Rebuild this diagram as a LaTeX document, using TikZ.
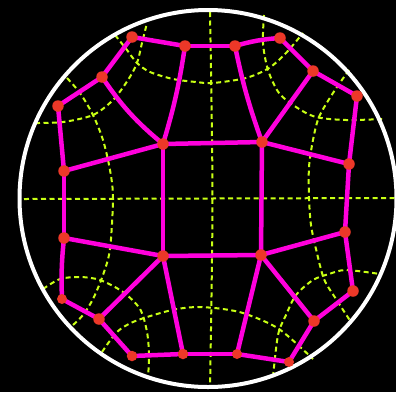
\documentclass[tikz,border=0pt]{standalone}
\usetikzlibrary{backgrounds}
\definecolor{mag}{RGB}{255,0,220}
\definecolor{dotred}{RGB}{236,56,40}
\definecolor{geo}{RGB}{200,255,20}
\pgfdeclarelayer{geolayer}
\pgfdeclarelayer{edgelayer}
\pgfsetlayers{geolayer,edgelayer,main}
\tikzset{
  dot/.style={circle, fill=dotred, draw=none, inner sep=0pt, minimum size=11.5pt},
  edge/.style={draw=mag, line width=4.5pt, line cap=round, line join=round},
  geoline/.style={draw=geo, line width=2pt, dash pattern=on 5pt off 3.5pt},
  rim/.style={draw=white, line width=4pt}
}
\begin{document}
\begin{tikzpicture}[x=1pt, y=-1pt]
\useasboundingbox (0,0) rectangle (396,392);
\begin{pgfonlayer}{geolayer}
  \fill[black] (0,0) rectangle (396,392);
  % straight geodesics
  \draw[geoline] plot[smooth] coordinates {(24,199) (210,198.5) (396,198)};
  \draw[geoline] plot[smooth] coordinates {(210,12) (212.5,198) (210,388)};
  % top-left
  \draw[geoline] plot[smooth] coordinates {(35,123) (63,122) (93,115) (113,100) (128,80) (137,63) (142,43) (147,23)};
  % left
  \draw[geoline] plot[smooth] coordinates {(67,78) (80,93) (93,115) (103,140) (110,170) (113,198) (110,249) (103,275) (93,299) (83,315) (73,325)};
  % top
  \draw[geoline] plot[smooth] coordinates {(115,35) (127,50) (137,63) (150,72) (173,79) (196,82) (213,83) (246,78) (269,68) (286,53) (303,33)};
  % top-right
  \draw[geoline] plot[smooth] coordinates {(264,15) (263,43) (268,70) (279,93) (296,107) (316,117) (346,120) (383,119)};
  % right
  \draw[geoline] plot[smooth] coordinates {(349,70) (333,93) (319,117) (313,140) (309,167) (309,198) (311,225) (316,249) (324,279) (336,299) (351,322)};
  % bottom-left
  \draw[geoline] plot[smooth] coordinates {(43,289) (60,279) (80,277) (100,280) (123,292) (140,309) (147,332) (149,355) (148,378)};
  % bottom
  \draw[geoline] plot[smooth] coordinates {(102,352) (117,332) (133,322) (157,314) (177,309) (198,307) (223,309) (246,314) (279,329) (313,359)};
  % bottom-right
  \draw[geoline] plot[smooth] coordinates {(273,377) (278,335) (286,315) (296,295) (313,280) (329,274) (346,270) (380,274)};
  % boundary circle
  \draw[rim] (208,198.5) circle[radius=188.5];
\end{pgfonlayer}

% vertices
\node[dot] (A) at (132,37) {};
\node[dot] (B) at (185,46) {};
\node[dot] (C) at (102,77) {};
\node[dot] (D) at (58,106) {};
\node[dot] (E) at (163,144) {};
\node[dot] (F) at (64,171) {};
\node[dot] (G) at (235,46) {};
\node[dot] (H) at (280,38) {};
\node[dot] (I) at (313,71) {};
\node[dot] (J) at (357,96) {};
\node[dot] (K) at (262,142) {};
\node[dot] (L) at (349,164) {};
\node[dot] (M) at (64,238) {};
\node[dot] (N) at (163,256) {};
\node[dot, minimum size=10pt] (O) at (62,299) {};
\node[dot] (P) at (99,319) {};
\node[dot, minimum size=10.5pt] (Q) at (132,356) {};
\node[dot, minimum size=10.5pt] (R) at (183,354) {};
\node[dot] (S) at (345,232) {};
\node[dot] (T) at (261,255) {};
\node[dot] (U) at (353,291) {};
\node[dot] (V) at (314,321) {};
\node[dot, minimum size=10pt] (W) at (237,354) {};
\node[dot, minimum size=10pt] (X) at (289,362) {};

\begin{pgfonlayer}{edgelayer}
  % outer ring
  \draw[edge] (A.center) -- (B.center);
  \draw[edge] (B.center) -- (G.center);
  \draw[edge] (G.center) to[bend left=6] (H.center);
  \draw[edge] (H.center) -- (I.center);
  \draw[edge] (I.center) -- (J.center);
  \draw[edge] (J.center) -- (L.center);
  \draw[edge] (L.center) -- (S.center);
  \draw[edge] (S.center) -- (U.center);
  \draw[edge] (U.center) -- (V.center);
  \draw[edge] (V.center) -- (X.center);
  \draw[edge] (X.center) -- (W.center);
  \draw[edge] (W.center) -- (R.center);
  \draw[edge] (R.center) -- (Q.center);
  \draw[edge] (Q.center) -- (P.center);
  \draw[edge] (P.center) -- (O.center);
  \draw[edge] (O.center) to[bend left=4] (M.center);
  \draw[edge] (M.center) -- (F.center);
  \draw[edge] (F.center) -- (D.center);
  \draw[edge] (D.center) -- (C.center);
  \draw[edge] (C.center) -- (A.center);
  % inner square
  \draw[edge] (E.center) -- (K.center);
  \draw[edge] (K.center) -- (T.center);
  \draw[edge] (T.center) -- (N.center);
  \draw[edge] (N.center) -- (E.center);
  % spokes
  \draw[edge] (E.center) -- (F.center);
  \draw[edge] (E.center) to[bend left=8] (C.center);
  \draw[edge] (E.center) to[bend right=4] (B.center);
  \draw[edge] (K.center) to[bend left=4] (G.center);
  \draw[edge] (K.center) -- (I.center);
  \draw[edge] (K.center) -- (L.center);
  \draw[edge] (T.center) -- (S.center);
  \draw[edge] (T.center) -- (V.center);
  \draw[edge] (T.center) -- (W.center);
  \draw[edge] (N.center) -- (M.center);
  \draw[edge] (N.center) -- (P.center);
  \draw[edge] (N.center) -- (R.center);
\end{pgfonlayer}
\end{tikzpicture}
\end{document}
